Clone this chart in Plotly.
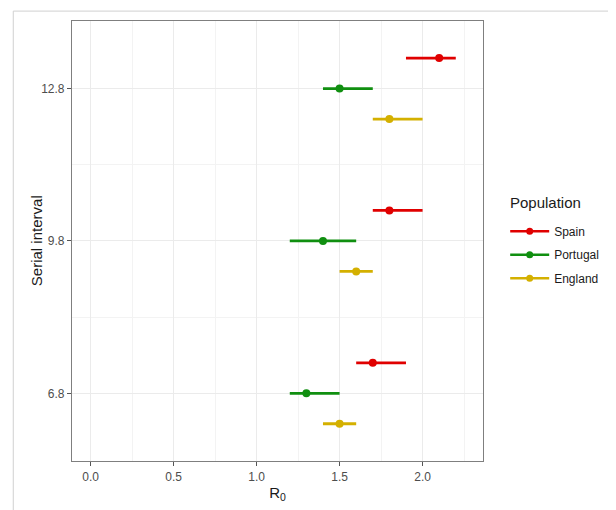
import plotly.graph_objects as go

populations = ["Spain", "Portugal", "England"]
colors = ["#e00000", "#108f10", "#d4b000"]
serial_interval = {
    "Spain": [13.4, 10.4, 7.4],
    "Portugal": [12.8, 9.8, 6.8],
    "England": [12.2, 9.2, 6.2],
}
r0_mid = {
    "Spain": [2.1, 1.8, 1.7],
    "Portugal": [1.5, 1.4, 1.3],
    "England": [1.8, 1.6, 1.5],
}
r0_low = {
    "Spain": [1.9, 1.7, 1.6],
    "Portugal": [1.4, 1.2, 1.2],
    "England": [1.7, 1.5, 1.4],
}
r0_high = {
    "Spain": [2.2, 2.0, 1.9],
    "Portugal": [1.7, 1.6, 1.5],
    "England": [2.0, 1.7, 1.6],
}
x_ticks = [0.0, 0.5, 1.0, 1.5, 2.0]
x_tick_labels = ["0.0", "0.5", "1.0", "1.5", "2.0"]
y_ticks = [6.8, 9.8, 12.8]
y_tick_labels = ["6.8", "9.8", "12.8"]

fig = go.Figure()
for pop, col in zip(populations, colors):
    mid = r0_mid[pop]
    plus = [h - m for h, m in zip(r0_high[pop], mid)]
    minus = [m - l for m, l in zip(mid, r0_low[pop])]
    fig.add_trace(go.Scatter(
        x=mid, y=serial_interval[pop], mode="markers",
        marker=dict(color=col, size=8),
        error_x=dict(type="data", symmetric=False, array=plus, arrayminus=minus,
                     color=col, thickness=2.8, width=0),
        showlegend=False, name=pop,
    ))
for pop, col in zip(populations, colors):
    fig.add_trace(go.Scatter(
        x=[None], y=[None], mode="lines+markers", name=pop,
        line=dict(color=col, width=2.6), marker=dict(color=col, size=7),
        legendgroup=pop, showlegend=True,
    ))

grid_col = "#ebebeb"
fig.update_layout(
    width=608, height=502,
    margin=dict(l=64, r=131, t=13, b=44),
    paper_bgcolor="white", plot_bgcolor="white",
    font=dict(family="Liberation Sans, Arial, sans-serif", color="#4d4d4d", size=12),
    xaxis=dict(
        range=[-0.112, 2.364], tickvals=x_ticks, ticktext=x_tick_labels,
        showgrid=True, gridcolor=grid_col, gridwidth=1,
        minor=dict(dtick=0.25, tick0=0, showgrid=True, gridcolor="#f3f3f3", gridwidth=0.6, ticks=""),
        ticks="outside", ticklen=4, tickcolor="#555555", tickfont=dict(size=12, color="#4d4d4d"),
        showline=True, linecolor="#7f7f7f", linewidth=1.2, mirror=True, zeroline=False,
        title=dict(text="R<sub>0</sub>", font=dict(size=15, color="#1a1a1a"), standoff=4),
    ),
    yaxis=dict(
        range=[5.467, 14.13], tickvals=y_ticks, ticktext=y_tick_labels,
        showgrid=True, gridcolor=grid_col, gridwidth=1,
        minor=dict(tickvals=[5.3, 8.3, 11.3, 14.3], showgrid=True, gridcolor="#f3f3f3", gridwidth=0.6, ticks=""),
        ticks="outside", ticklen=4, tickcolor="#555555", tickfont=dict(size=12, color="#4d4d4d"),
        showline=True, linecolor="#7f7f7f", linewidth=1.2, mirror=True, zeroline=False,
    ),
    legend=dict(
        x=1.054, y=0.555, xanchor="left", yanchor="top",
        font=dict(size=12, color="#1a1a1a"), tracegroupgap=4.5, itemwidth=39,
        bgcolor="rgba(0,0,0,0)",
    ),
    annotations=[
        dict(text="Population", xref="paper", yref="paper", x=1.0605, y=0.5865,
             xanchor="left", yanchor="middle", showarrow=False,
             font=dict(size=15, color="#1a1a1a")),
        dict(text="Serial interval", xref="paper", yref="paper", x=-0.0872, y=0.5,
             xanchor="center", yanchor="middle", textangle=-90, showarrow=False,
             font=dict(size=15, color="#1a1a1a")),
    ],
    shapes=[
        dict(type="line", xref="paper", yref="paper", x0=-0.1429, x1=-0.1429, y0=1.0225, y1=-0.2,
             line=dict(color="#d0d0d0", width=1)),
        dict(type="line", xref="paper", yref="paper", x0=-0.1429, x1=1.4, y0=1.0225, y1=1.0225,
             line=dict(color="#d0d0d0", width=1)),
    ],
)

fig.write_html("out.html")
